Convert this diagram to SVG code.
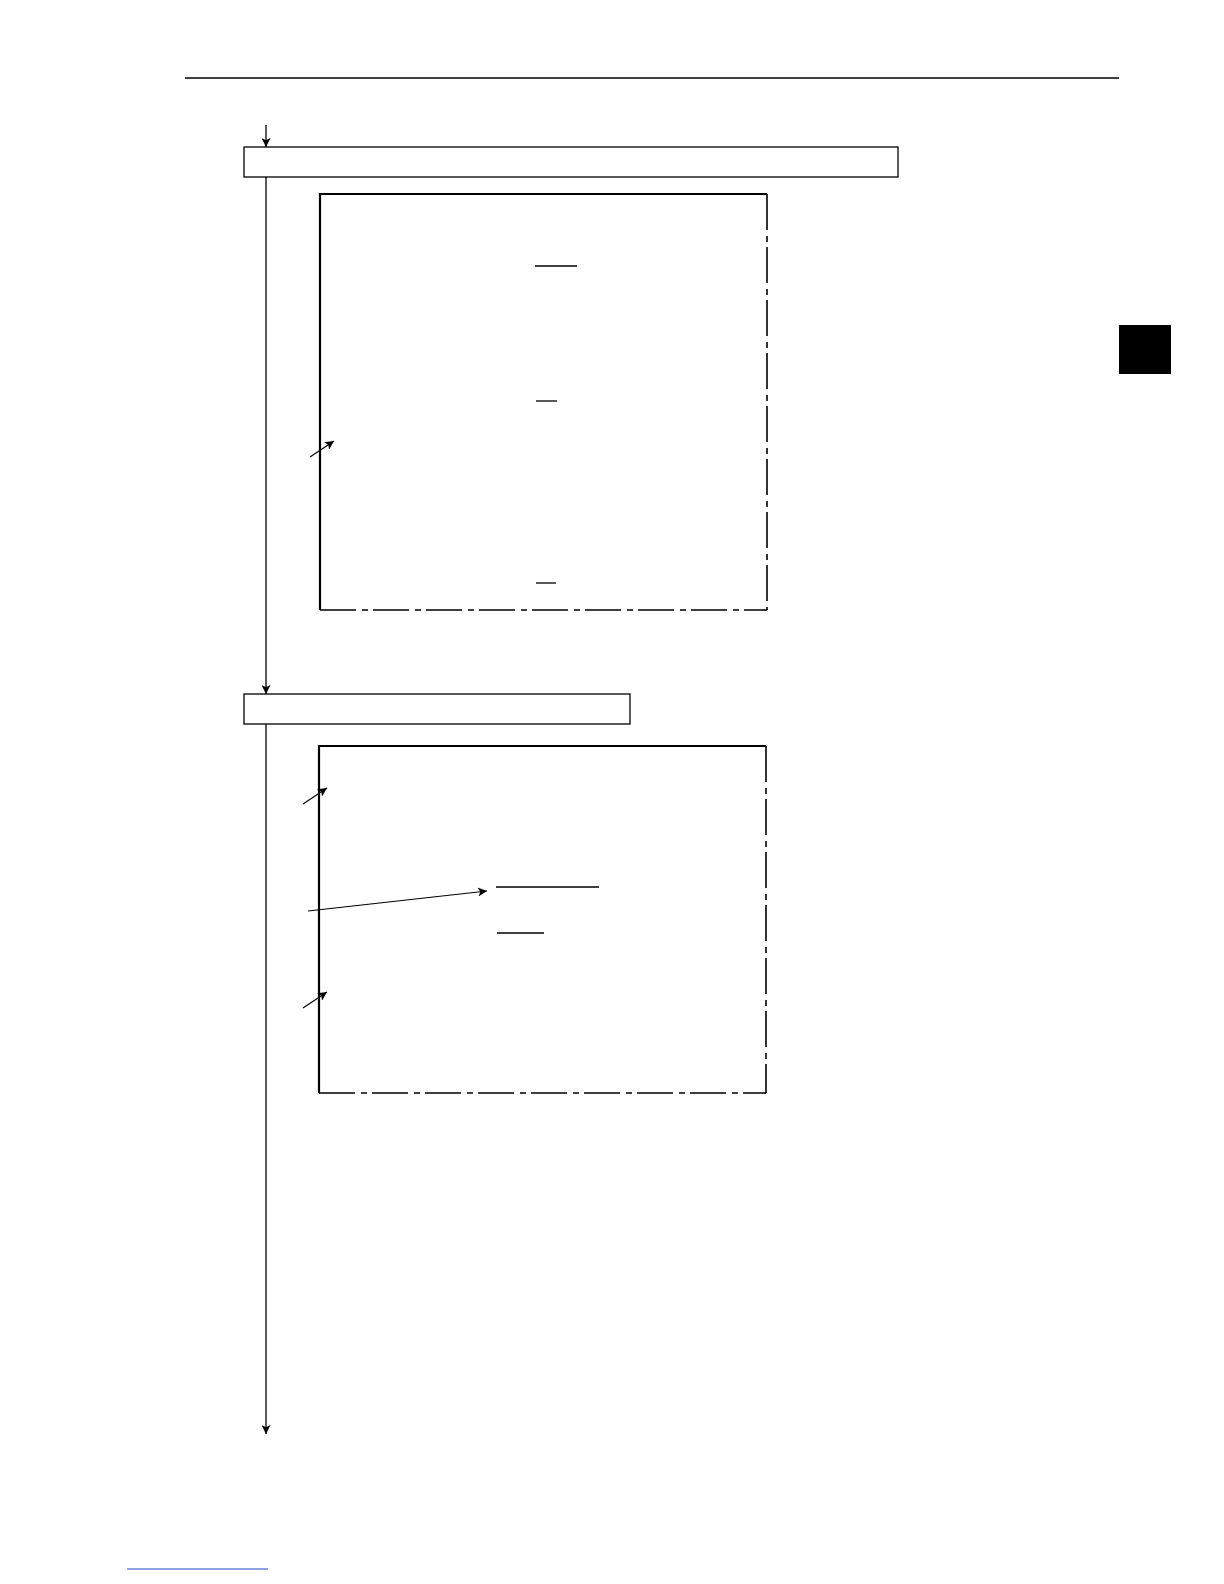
<svg xmlns="http://www.w3.org/2000/svg" width="1224" height="1584" viewBox="0 0 1224 1584">
<style>
.box{fill:none;stroke:#000;stroke-width:1.3}
.flow{fill:none;stroke:#000;stroke-width:1.3}
.solid{fill:none;stroke:#000;stroke-width:2.2}
.dd{fill:none;stroke:#000;stroke-width:1.6;stroke-dasharray:36 6 6 5}
.ul{stroke:#000;stroke-width:1.3}
.ptr{fill:none;stroke:#000;stroke-width:1.1}
</style>
<defs>
<marker id="ah" viewBox="0 0 10 10" refX="10" refY="5" markerWidth="11" markerHeight="9" markerUnits="userSpaceOnUse" orient="auto">
<path d="M0,0 L10,5 L0,10 L2.5,5 z" fill="#000"/>
</marker>
</defs>
<rect width="1224" height="1584" fill="#fff"/>
<g id="header">
<line x1="185" y1="78" x2="1119" y2="78" stroke="#000" stroke-width="1.3"/>
<rect x="1119" y="325" width="52" height="49" fill="#000"/>
</g>
<g id="connectors">
<line class="flow" x1="266" y1="125" x2="266" y2="147" marker-end="url(#ah)"/>
<line class="flow" x1="266" y1="177" x2="266" y2="694" marker-end="url(#ah)"/>
<line class="flow" x1="266" y1="724" x2="266" y2="1434" marker-end="url(#ah)"/>
<line class="ptr" x1="310" y1="457" x2="334" y2="441" marker-end="url(#ah)"/>
<line class="ptr" x1="303" y1="804" x2="327" y2="788" marker-end="url(#ah)"/>
<line class="ptr" x1="308" y1="911" x2="487" y2="891" marker-end="url(#ah)"/>
<line class="ptr" x1="303" y1="1008" x2="327" y2="992" marker-end="url(#ah)"/>
</g>
<g id="step1">
<rect class="box" x="244" y="147" width="654" height="30"/>
</g>
<g id="panel1">
<polyline class="solid" points="320,610 320,194 767,194"/>
<line class="dd" x1="767" y1="194" x2="767" y2="610"/>
<line class="dd" x1="320" y1="610" x2="767" y2="610"/>
<line class="ul" x1="535" y1="266" x2="577" y2="266"/>
<line class="ul" x1="536" y1="401" x2="557" y2="401"/>
<line class="ul" x1="536" y1="583" x2="556" y2="583"/>
</g>
<g id="step2">
<rect class="box" x="244" y="694" width="386" height="30"/>
</g>
<g id="panel2">
<polyline class="solid" points="319,1093 319,746 766,746"/>
<line class="dd" x1="766" y1="746" x2="766" y2="1093"/>
<line class="dd" x1="319" y1="1093" x2="766" y2="1093"/>
<line class="ul" x1="496" y1="887" x2="599" y2="887"/>
<line class="ul" x1="497" y1="933" x2="544" y2="933"/>
</g>
<g id="footer">
<line x1="127" y1="1569" x2="268" y2="1569" stroke="#1f45c8" stroke-width="1.2"/>
</g>
</svg>
